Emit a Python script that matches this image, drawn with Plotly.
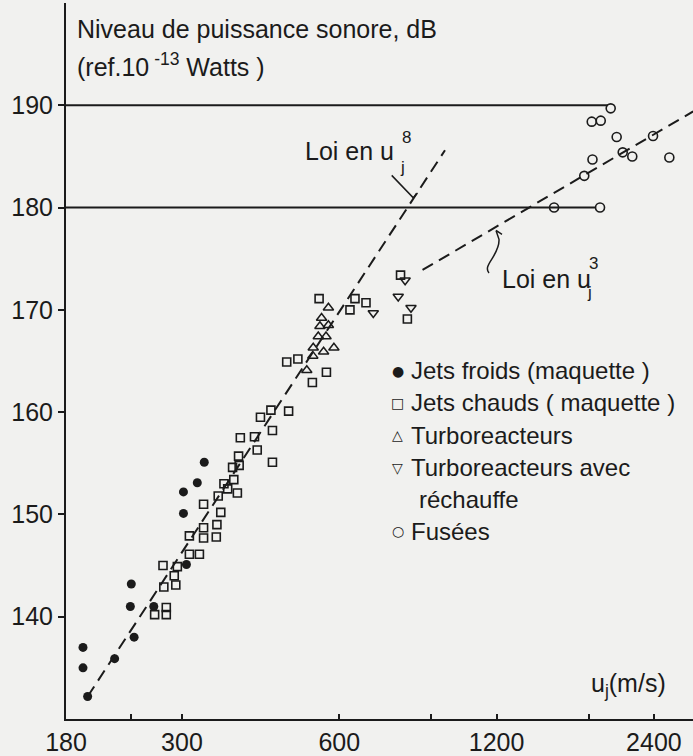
import math
import plotly.graph_objects as go

# ---------------- data ----------------
# Jets froids (maquette) - filled circles
froids_u = [194, 194, 198, 223, 240, 239, 243, 265, 306, 302, 302, 321, 331]
froids_L = [137.0, 135.0, 132.2, 135.9, 143.2, 141.0, 138.0, 141.0, 145.1, 150.1, 152.2, 153.1, 155.1]

# Jets chauds (maquette) - open squares
chauds_u = [266, 280, 280, 277, 276, 290, 292, 294, 310, 324, 310, 330, 330, 330,
            349, 350, 356, 352, 361, 367, 377, 383, 375, 386, 385, 388, 413, 418,
            424, 444, 447, 447, 480, 533, 567, 476, 500, 549, 643, 629, 675, 810, 786]
chauds_L = [140.2, 140.2, 140.9, 142.9, 145.0, 144.0, 143.1, 144.9, 146.1, 146.1, 147.9, 147.7, 148.7, 151.0,
            147.8, 149.0, 150.2, 151.8, 153.0, 152.5, 153.4, 152.1, 154.6, 154.8, 155.7, 157.5, 157.6, 156.3,
            159.5, 160.2, 158.2, 155.1, 160.1, 162.9, 163.9, 164.9, 165.2, 171.1, 171.1, 170.0, 170.7, 169.1, 173.4]

# Turboreacteurs - open up-triangles
turbo_u = [572, 555, 572, 551, 566, 547, 535, 534, 560, 586, 520]
turbo_L = [170.2, 169.2, 168.5, 168.4, 167.4, 167.4, 166.3, 165.5, 165.9, 166.3, 164.1]

# Turboreacteurs avec rechauffe - open down-triangles
rechauffe_u = [697, 802, 778, 823]
rechauffe_L = [169.7, 172.9, 171.3, 170.2]

# Fusees - open circles
fusees_u = [1984, 1825, 1899, 2037, 1831, 2092, 2182, 2569, 2391, 1766, 1546, 1893]
fusees_L = [189.7, 188.4, 188.5, 186.9, 184.7, 185.4, 185.0, 184.9, 187.0, 183.1, 180.0, 180.0]

# horizontal level lines (190 dB and 180 dB)
ligne190_u = [180, 1960]
ligne190_L = [190, 190]
ligne180_u = [180, 1860]
ligne180_L = [180, 180]

# fitted laws
loi8_u = [198, 956]
loi8_L = [132.2, 185.6]
loi3_u = [866, 2853]
loi3_L = [173.9, 189.4]

x_tickvals = [180, 300, 600, 1200, 2400]
x_ticktext = ["180", "300", "600", "1200", "2400"]
x_minor_tickvals = [240, 900, 1800]
y_tickvals = [140, 150, 160, 170, 180, 190]

# ---------------- styling ----------------
INK = "#1b1b1b"
BG = "#f1f1ef"
FONT = "Liberation Sans, Arial, sans-serif"
W, H = 693, 756
ML, MR, MT, MB = 66, 0, 3, 29
PW, PH = W - ML - MR, H - MT - MB


def px(x):
    return (x - ML) / PW


def py(y):
    return (H - MB - y) / PH


fig = go.Figure()

line_style = dict(color=INK, width=2)
dash_style = dict(color=INK, width=2, dash="12px,7px")

fig.add_trace(go.Scatter(x=ligne190_u, y=ligne190_L, mode="lines", line=line_style,
                         hoverinfo="skip", cliponaxis=False))
fig.add_trace(go.Scatter(x=ligne180_u, y=ligne180_L, mode="lines", line=line_style,
                         hoverinfo="skip", cliponaxis=False))
fig.add_trace(go.Scatter(x=loi8_u, y=loi8_L, mode="lines", line=dash_style, name="Loi en u8"))
fig.add_trace(go.Scatter(x=loi3_u, y=loi3_L, mode="lines", line=dash_style, name="Loi en u3"))

fig.add_trace(go.Scatter(x=froids_u, y=froids_L, mode="markers", name="Jets froids (maquette )",
                         marker=dict(symbol="circle", size=9, color=INK)))
fig.add_trace(go.Scatter(x=chauds_u, y=chauds_L, mode="markers", name="Jets chauds ( maquette )",
                         marker=dict(symbol="square-open", size=8, color=INK, line=dict(width=1.6, color=INK))))
fig.add_trace(go.Scatter(x=turbo_u, y=turbo_L, mode="markers", name="Turboreacteurs",
                         marker=dict(symbol="triangle-up-open", size=9, color=INK, line=dict(width=1.5, color=INK))))
fig.add_trace(go.Scatter(x=rechauffe_u, y=rechauffe_L, mode="markers", name="Turboreacteurs avec réchauffe",
                         marker=dict(symbol="triangle-down-open", size=9, color=INK, line=dict(width=1.5, color=INK))))
fig.add_trace(go.Scatter(x=fusees_u, y=fusees_L, mode="markers", name="Fusées",
                         marker=dict(symbol="circle-open", size=9, color=INK, line=dict(width=1.6, color=INK))))

fig.update_layout(
    width=W, height=H,
    margin=dict(l=ML, r=MR, t=MT, b=MB, pad=0),
    paper_bgcolor=BG, plot_bgcolor=BG,
    showlegend=False,
    font=dict(family=FONT, size=25, color=INK),
    xaxis=dict(type="log", range=[math.log10(180), math.log10(180) + PW / 522.6],
               tickvals=x_tickvals, ticktext=x_ticktext,
               ticks="inside", ticklen=5, tickwidth=1.5, tickcolor=INK,
               minor=dict(tickvals=x_minor_tickvals, ticks="inside", ticklen=5,
                          tickwidth=1.5, tickcolor=INK, showgrid=False),
               showline=True, linewidth=2, linecolor=INK,
               showgrid=False, zeroline=False, tickfont=dict(size=25)),
    yaxis=dict(range=[130, 200], tickvals=y_tickvals,
               ticks="outside", ticklen=6, tickwidth=1.5, tickcolor=INK,
               showline=True, linewidth=2, linecolor=INK,
               showgrid=False, zeroline=False, tickfont=dict(size=25)),
)


def txt(x, y, s, size=25, anchor="left"):
    fig.add_annotation(x=px(x), y=py(y), xref="paper", yref="paper", text=s,
                       showarrow=False, xanchor=anchor, yanchor="middle",
                       font=dict(size=size, family=FONT, color=INK))


# axis titles
txt(75, 29, "Niveau de puissance sonore, dB")
txt(75, 66, "(ref.10<sup> -13</sup> Watts )")
txt(589, 693, "u<sub>j</sub>(m/s)")

# law labels
txt(303, 153, "Loi en u")
txt(400, 139, "8", size=17)
txt(398, 169, "j", size=17)
txt(500, 282, "Loi en u")
txt(587, 266, "3", size=17)
txt(585, 296, "j", size=17)

# legend (text)
legend_rows = [
    ("●", "Jets froids (maquette )", 375),
    ("□", "Jets chauds ( maquette )", 407),
    ("△", "Turboreacteurs", 440),
    ("▽", "Turboreacteurs avec", 473),
    ("○", "Fusées", 537),
]
for glyph, label, yy in legend_rows:
    fig.add_annotation(x=px(398), y=py(yy), xref="paper", yref="paper", text=glyph,
                       showarrow=False, xanchor="center", yanchor="middle",
                       font=dict(size=14, family="DejaVu Sans", color=INK))
    txt(409, yy, label, size=24)
txt(417, 505, "réchauffe", size=24)


def P(x, y):
    return f"{px(x):.5f},{py(y):.5f}"


# leader lines
fig.add_shape(type="path", xref="paper", yref="paper",
              path=f"M {P(391.7, 177.3)} L {P(413.3, 200)} L {P(417.5, 195)}",
              line=dict(color=INK, width=1.5))
fig.add_shape(type="path", xref="paper", yref="paper",
              path=f"M {P(489, 276)} C {P(482, 268)} {P(500, 258)} {P(499, 242)} L {P(496, 233)} M {P(496, 233)} L {P(502, 237)}",
              line=dict(color=INK, width=1.5))

# remove the browser's default 8px body margin so the figure fills the window
fig.write_html("out.html",
               config={"displayModeBar": False},
               post_script="document.body.style.margin='0';document.body.style.background='#f1f1ef';")
